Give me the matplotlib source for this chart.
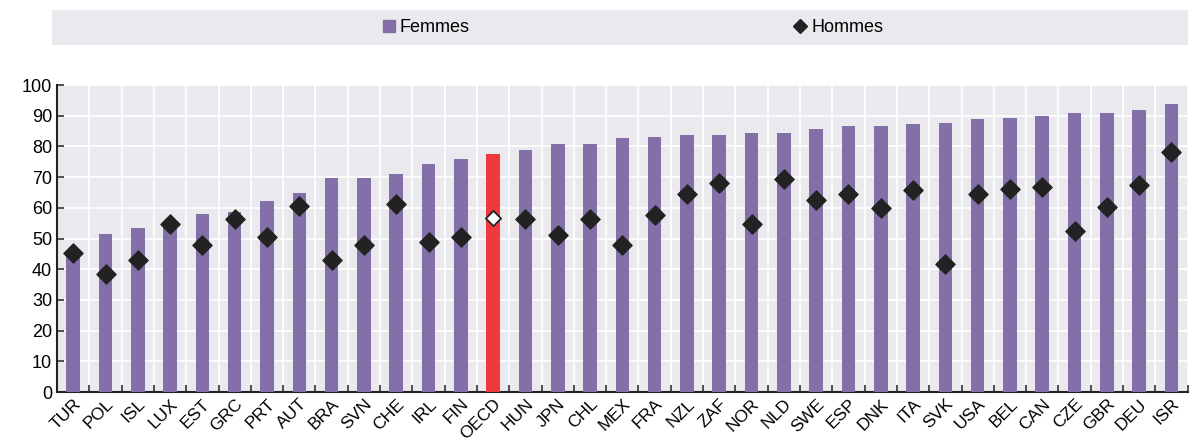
import numpy as np
import matplotlib
matplotlib.use("Agg")
import matplotlib.pyplot as plt
from matplotlib.patches import Rectangle
from matplotlib.lines import Line2D

plt.rcParams['font.family'] = ['Liberation Sans Narrow', 'Liberation Sans', 'DejaVu Sans']

pays = ['TUR', 'POL', 'ISL', 'LUX', 'EST', 'GRC', 'PRT', 'AUT', 'BRA', 'SVN', 'CHE', 'IRL',
        'FIN', 'OECD', 'HUN', 'JPN', 'CHL', 'MEX', 'FRA', 'NZL', 'ZAF', 'NOR', 'NLD', 'SWE',
        'ESP', 'DNK', 'ITA', 'SVK', 'USA', 'BEL', 'CAN', 'CZE', 'GBR', 'DEU', 'ISR']
femmes = [45.0, 51.5, 53.5, 55.0, 58.0, 58.5, 62.3, 64.7, 69.7, 69.7, 71.0, 74.3,
          75.8, 77.4, 79.0, 80.8, 80.8, 82.6, 83.0, 83.8, 83.8, 84.3, 84.4, 85.7,
          86.6, 86.8, 87.4, 87.7, 89.0, 89.4, 89.8, 90.9, 90.9, 91.9, 93.9]
hommes = [45.2, 38.3, 43.0, 54.6, 47.8, 56.4, 50.4, 60.7, 42.9, 47.9, 61.1, 49.0,
          50.6, 56.8, 56.4, 51.2, 56.4, 47.9, 57.8, 64.5, 68.1, 54.6, 69.4, 62.6,
          64.4, 60.1, 65.9, 41.8, 64.5, 66.3, 66.8, 52.5, 60.3, 67.5, 78.3]

violet = '#8470a8'
rouge = '#ee3a3e'
noir = '#222222'
fond = '#eaeaee'

fig = plt.figure(figsize=(11.96, 4.43), dpi=100)
ax = fig.add_axes([0.0477, 0.115, 0.9453, 0.693])
ax.set_facecolor(fond)

x = np.arange(len(pays))
couleurs = [rouge if p == 'OECD' else violet for p in pays]
ax.bar(x, femmes, width=0.42, color=couleurs, zorder=3)

autres = [i for i, p in enumerate(pays) if p != 'OECD']
io = pays.index('OECD')
ax.scatter(x[autres], [hommes[i] for i in autres], marker='D', s=95, color=noir, zorder=4)
ax.scatter([x[io]], [hommes[io]], marker='D', s=60, facecolor='white', edgecolor=noir,
           linewidth=1.3, zorder=4)

ax.set_xlim(-0.5, len(pays) - 0.5)
ax.set_ylim(0, 100)
ax.set_yticks(range(0, 101, 10))
ax.set_xticks(x)
ax.set_xticklabels(pays, rotation=45, ha='right', rotation_mode='anchor', fontsize=12.5)
ax.set_xticks(np.arange(-0.5, len(pays), 1), minor=True)
ax.tick_params(axis='x', which='major', length=0, pad=3)
ax.tick_params(axis='x', which='minor', direction='in', length=5, width=1.2, color='#333333')
ax.tick_params(axis='y', direction='in', length=5, width=1.2, color='#333333', labelsize=13)
ax.grid(True, which='minor', axis='x', color='white', linewidth=1.2, zorder=0)
ax.grid(True, which='major', axis='y', color='white', linewidth=1.2, zorder=0)
for s in ['top', 'right']:
    ax.spines[s].set_visible(False)
for s in ['left', 'bottom']:
    ax.spines[s].set_linewidth(1.5)
    ax.spines[s].set_color('#222222')

fig.patches.append(Rectangle((0.0435, 0.899), 0.95, 0.079, transform=fig.transFigure,
                             facecolor=fond, edgecolor='none', zorder=0))
poignees = [Line2D([], [], marker='s', linestyle='none', color=violet, markersize=8),
            Line2D([], [], marker='D', linestyle='none', color=noir, markersize=7)]
fig.legend(poignees, ['Femmes', 'Hommes'], loc='center', bbox_to_anchor=(0.528, 0.938),
           ncol=2, frameon=False, fontsize=13, handletextpad=0.1, columnspacing=17.8,
           handlelength=1.0)

fig.savefig('out.png', dpi=100)
